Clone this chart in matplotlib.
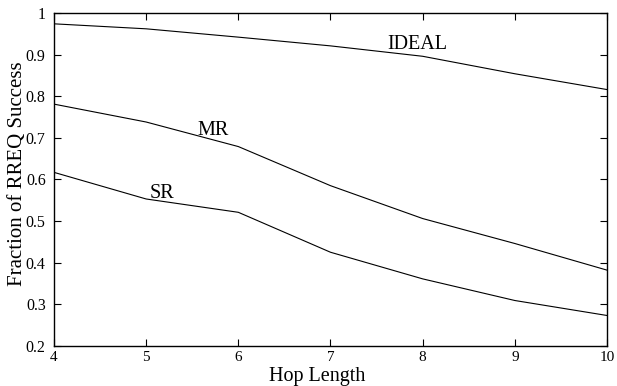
import numpy as np
import matplotlib
matplotlib.use("Agg")
import matplotlib.pyplot as plt
from matplotlib.ticker import FuncFormatter

plt.rcParams["font.family"] = ["Liberation Serif", "DejaVu Serif"]

hops = [4, 5, 6, 7, 8, 9, 10]
ideal = [0.974, 0.962, 0.942, 0.921, 0.896, 0.854, 0.816]
mr = [0.781, 0.738, 0.679, 0.585, 0.506, 0.446, 0.382]
sr = [0.617, 0.553, 0.521, 0.425, 0.361, 0.309, 0.273]

fig = plt.figure(figsize=(6.17, 3.86), dpi=100)
ax = fig.add_axes([0.0875, 0.104, 0.8963, 0.8623])

for series in (ideal, mr, sr):
    ax.plot(hops, series, "k-", linewidth=0.8)

# curve labels
ax.text(7.94, 0.924, "IDEAL", fontsize=14.5, ha="center", va="center")
ax.text(5.73, 0.718, "MR", fontsize=14.5, ha="center", va="center")
ax.text(5.17, 0.565, "SR", fontsize=14.5, ha="center", va="center")

ax.set_xlim(4, 10)
ax.set_ylim(0.2, 1.0)
ax.set_xticks(hops)
ax.set_yticks(np.arange(0.2, 1.01, 0.1))
ax.yaxis.set_major_formatter(FuncFormatter(lambda v, p: "%g" % round(v, 2)))

ax.tick_params(direction="in", length=5, width=0.8, top=True, right=True,
               labelsize=11.5)
ax.tick_params(axis="x", pad=3.5, labelsize=11)
ax.tick_params(axis="y", pad=6)
for s in ax.spines.values():
    s.set_linewidth(1.0)

ax.set_xlabel("Hop Length", fontsize=14.5)
ax.xaxis.set_label_coords(0.4765, -0.064)
ax.set_ylabel("Fraction of RREQ Success", fontsize=15)
ax.yaxis.set_label_coords(-0.048, 0.516)

fig.savefig("out.png", dpi=100)
